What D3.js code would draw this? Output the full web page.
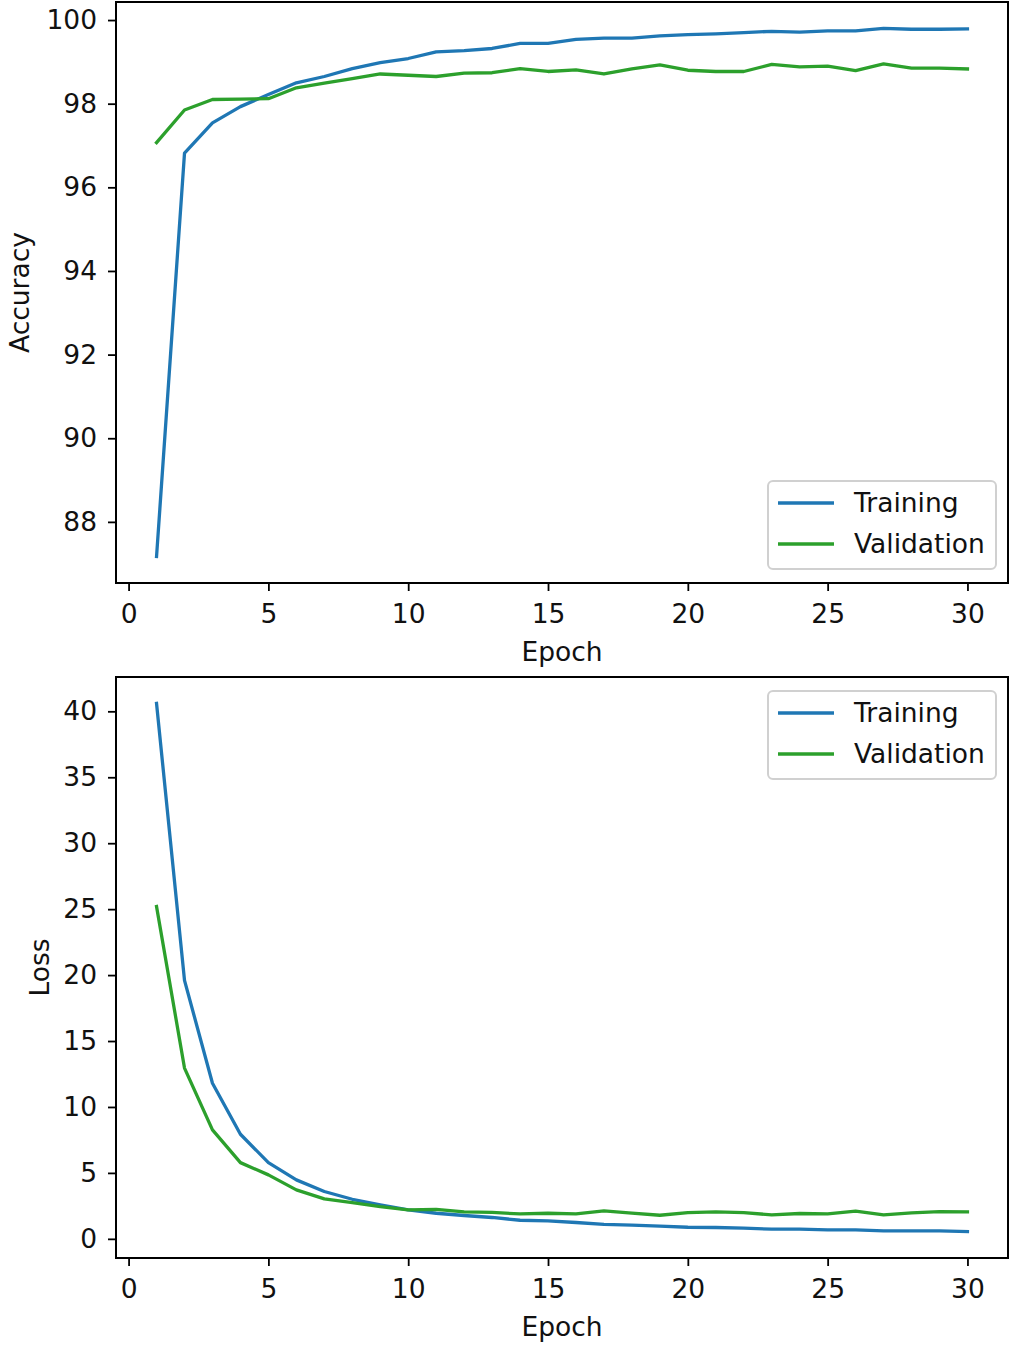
<!DOCTYPE html>
<html><head><meta charset="utf-8">
<script src="https://cdn.jsdelivr.net/npm/d3@7"></script>
<style>
body{margin:0;background:#fff;}
svg{display:block;font-family:"DejaVu Sans",sans-serif;}
</style></head><body>
<svg id="c" width="1010" height="1345"></svg>
<script>
const epochs = d3.range(1, 31);
const trainAcc = [87.17,96.82,97.54,97.93,98.22,98.50,98.65,98.84,98.98,99.08,99.24,99.27,99.32,99.44,99.44,99.54,99.57,99.57,99.62,99.65,99.67,99.70,99.73,99.71,99.74,99.74,99.80,99.78,99.78,99.79];
const valAcc = [97.07,97.85,98.10,98.11,98.12,98.38,98.49,98.60,98.71,98.68,98.65,98.73,98.74,98.84,98.77,98.81,98.71,98.83,98.93,98.80,98.77,98.77,98.94,98.88,98.90,98.79,98.95,98.85,98.85,98.83];
const trainLoss = [40.6,19.6,11.8,7.93,5.78,4.47,3.59,3.0,2.58,2.2,1.94,1.77,1.62,1.41,1.36,1.24,1.09,1.04,0.96,0.88,0.86,0.81,0.73,0.73,0.68,0.68,0.61,0.61,0.61,0.55];
const valLoss = [25.2,12.95,8.26,5.78,4.85,3.71,3.03,2.75,2.45,2.2,2.23,2.05,2.0,1.89,1.94,1.89,2.12,1.95,1.79,1.99,2.05,1.99,1.82,1.92,1.89,2.10,1.82,1.97,2.07,2.05];
const xTicks = [0,5,10,15,20,25,30];
const accTicks = [88,90,92,94,96,98,100];
const lossTicks = [0,5,10,15,20,25,30,35,40];
const seriesNames = ["Training","Validation"];
const colors = ["#1f77b4","#2ca02c"];

const FS = 26.5;
const svg = d3.select("#c");

function panel(top, bottom, series, yTicks, yLabel, yLabelX, legendTop){
  const left = 116, right = 1008;
  const all = series.flat();
  const mn = d3.min(all), mx = d3.max(all), pad = (mx-mn)*0.05;
  const x = d3.scaleLinear().domain([1-29*0.05, 30+29*0.05]).range([left, right]);
  const y = d3.scaleLinear().domain([mn-pad, mx+pad]).range([bottom, top]);
  const g = svg.append("g");
  const line = d3.line().x((d,i)=>x(epochs[i])).y(d=>y(d));
  series.forEach((s,k)=>{
    g.append("path").datum(s).attr("d", line).attr("fill","none")
     .attr("stroke", colors[k]).attr("stroke-width",3.3).attr("stroke-linejoin","round").attr("stroke-linecap","square");
  });
  const xa = g.append("g").attr("transform",`translate(0,${bottom})`)
    .call(d3.axisBottom(x).tickValues(xTicks).tickSize(8).tickPadding(13).tickFormat(d3.format("d")));
  const ya = g.append("g").attr("transform",`translate(${left},0)`)
    .call(d3.axisLeft(y).tickValues(yTicks).tickSize(8).tickPadding(11).tickFormat(d3.format("d")));
  [xa,ya].forEach(a=>{
    a.select(".domain").remove();
    a.selectAll("line").attr("stroke","#000").attr("stroke-width",1.8);
    a.selectAll("text").attr("font-size",FS).attr("fill","#111").attr("font-family","DejaVu Sans");
  });
  g.append("rect").attr("x",left).attr("y",top).attr("width",right-left).attr("height",bottom-top)
    .attr("fill","none").attr("stroke","#000").attr("stroke-width",2);
  g.append("text").attr("x",(left+right)/2).attr("y",bottom+78).attr("text-anchor","middle")
    .attr("font-size",FS).attr("fill","#111").text("Epoch");
  g.append("text").attr("transform",`translate(${yLabelX},${(top+bottom)/2}) rotate(-90)`)
    .attr("text-anchor","middle").attr("font-size",FS).attr("fill","#111").text(yLabel);
  // legend
  const lg = g.append("g").attr("transform",`translate(768,${legendTop})`);
  lg.append("rect").attr("width",228).attr("height",88).attr("rx",5)
    .attr("fill","#fff").attr("fill-opacity",0.8).attr("stroke","#d0d0d0").attr("stroke-width",2);
  seriesNames.forEach((n,k)=>{
    const yy = 22 + k*41;
    lg.append("line").attr("x1",10).attr("x2",66).attr("y1",yy).attr("y2",yy)
      .attr("stroke",colors[k]).attr("stroke-width",3.3);
    lg.append("text").attr("x",86).attr("y",yy+9).attr("font-size",FS).attr("fill","#111").text(n);
  });
}

panel(2, 583, [trainAcc, valAcc], accTicks, "Accuracy", 29, 481);
panel(677, 1258, [trainLoss, valLoss], lossTicks, "Loss", 49, 691);
</script>
</body></html>
